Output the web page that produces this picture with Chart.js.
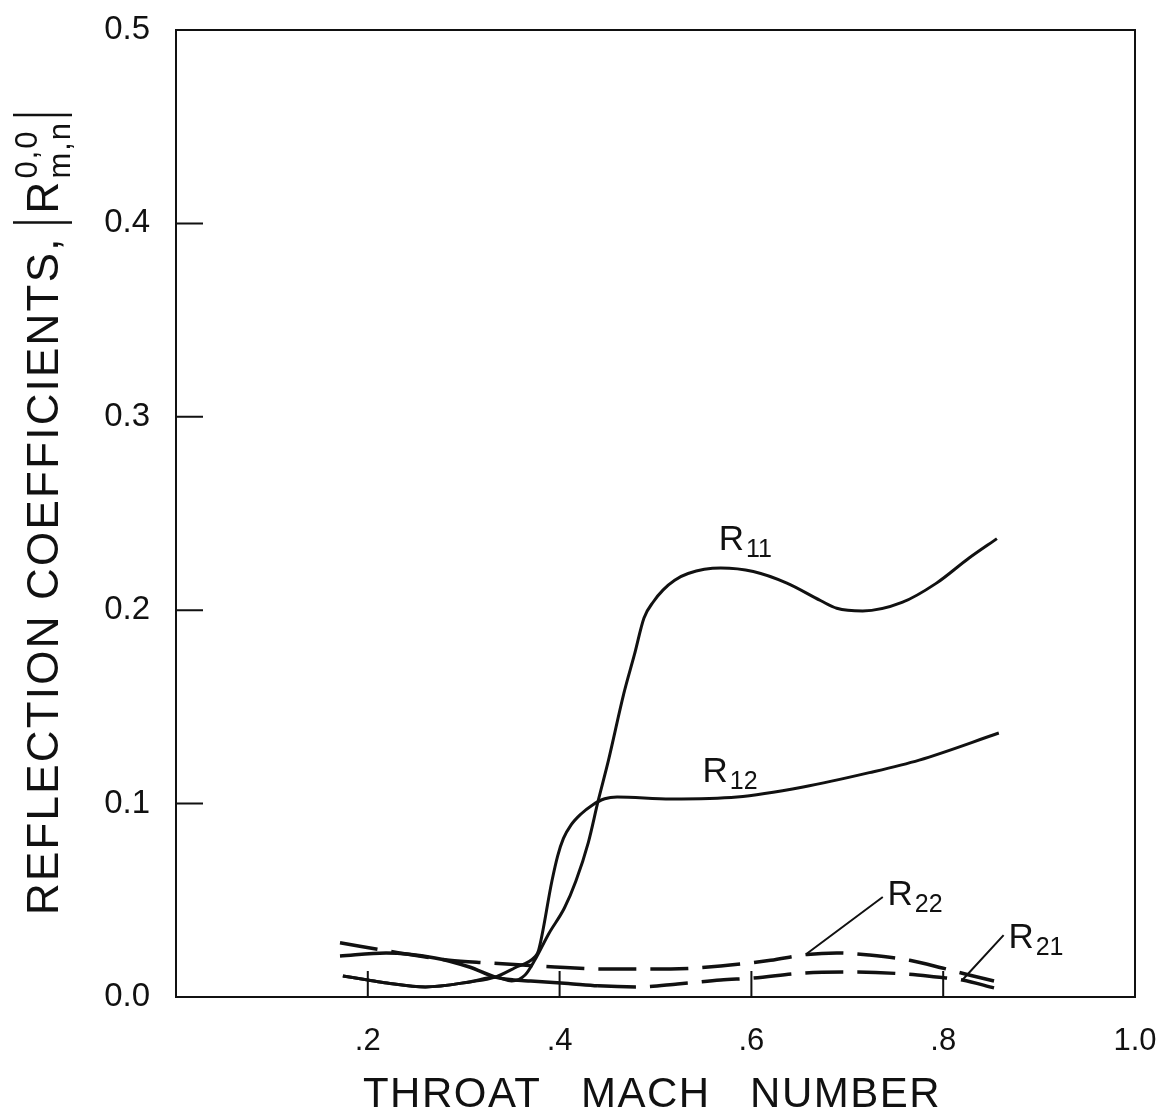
<!DOCTYPE html>
<html>
<head>
<meta charset="utf-8">
<script src="https://cdn.jsdelivr.net/npm/chart.js@4.4.0/dist/chart.umd.min.js"></script>
<style>
  body { margin: 0; background: #fff; }
</style>
</head>
<body>
<canvas id="grafico" width="1164" height="1113"></canvas>
<script>
const xTickLabels = ["", ".2", ".4", ".6", ".8", "1.0"];
const yTickLabels = ["0.0", "0.1", "0.2", "0.3", "0.4", "0.5"];

// R11 (solid)
const machR11 = [0.174, 0.2, 0.22, 0.26, 0.306, 0.333, 0.35, 0.364, 0.374, 0.389, 0.405, 0.417, 0.43, 0.44, 0.451, 0.467, 0.478, 0.488, 0.498, 0.508, 0.52, 0.534, 0.568, 0.602, 0.637, 0.672, 0.689, 0.716, 0.757, 0.793, 0.827, 0.856];
const valR11 = [0.0109, 0.0088, 0.0072, 0.0052, 0.0078, 0.0103, 0.0083, 0.0114, 0.019, 0.033, 0.046, 0.06, 0.08, 0.101, 0.1225, 0.157, 0.177, 0.196, 0.2045, 0.2105, 0.2155, 0.219, 0.2218, 0.22, 0.214, 0.205, 0.201, 0.1996, 0.204, 0.214, 0.227, 0.237];

// R12 (solid)
const machR12 = [0.174, 0.2, 0.22, 0.26, 0.306, 0.333, 0.353, 0.374, 0.378, 0.392, 0.398, 0.404, 0.412, 0.422, 0.434, 0.447, 0.46, 0.516, 0.585, 0.654, 0.723, 0.775, 0.858];
const valR12 = [0.0109, 0.0088, 0.0072, 0.0052, 0.0078, 0.0103, 0.015, 0.0207, 0.024, 0.06, 0.073, 0.082, 0.089, 0.0945, 0.0992, 0.1025, 0.1034, 0.1024, 0.1034, 0.1086, 0.116, 0.1225, 0.1365];

// R22 (dashed)
const machR22 = [0.171, 0.233, 0.285, 0.326, 0.361, 0.395, 0.447, 0.516, 0.568, 0.62, 0.658, 0.689, 0.723, 0.765, 0.799, 0.827, 0.853];
const valR22 = [0.028, 0.0228, 0.019, 0.0176, 0.0165, 0.0155, 0.0145, 0.0145, 0.016, 0.019, 0.022, 0.0228, 0.0217, 0.019, 0.015, 0.0114, 0.0083];

// R21 (dashed on the right part)
const machR21 = [0.171, 0.219, 0.27, 0.306, 0.333, 0.352, 0.37, 0.409, 0.44, 0.482, 0.523, 0.568, 0.602, 0.654, 0.706, 0.757, 0.793, 0.82, 0.853];
const valR21 = [0.0212, 0.0228, 0.0202, 0.0155, 0.0103, 0.0088, 0.0083, 0.007, 0.0058, 0.0052, 0.0067, 0.0088, 0.0098, 0.0124, 0.0129, 0.012, 0.0103, 0.0088, 0.0047];

const pontos = (mx, vs) => mx.map((m, i) => ({ x: m, y: vs[i] }));
const ink = "#111";
const fonte = "Liberation Sans";

const extras = {
  id: "extras",
  afterDatasetsDraw(chart) {
    const { ctx, chartArea: a, scales: { x, y } } = chart;
    ctx.save();
    ctx.strokeStyle = ink;
    ctx.fillStyle = ink;
    ctx.lineWidth = 2;
    ctx.strokeRect(a.left, a.top, a.right - a.left, a.bottom - a.top);

    // inward ticks
    ctx.beginPath();
    y.ticks.slice(1, -1).forEach(t => {
      const py = y.getPixelForValue(t.value);
      ctx.moveTo(a.left, py); ctx.lineTo(a.left + 27, py);
    });
    x.ticks.slice(1, -1).forEach(t => {
      const px = x.getPixelForValue(t.value);
      ctx.moveTo(px, a.bottom); ctx.lineTo(px, a.bottom - 26);
    });
    ctx.stroke();

    // leader lines
    ctx.beginPath();
    ctx.moveTo(x.getPixelForValue(0.658), y.getPixelForValue(0.0225));
    ctx.lineTo(x.getPixelForValue(0.737), y.getPixelForValue(0.0517));
    ctx.moveTo(x.getPixelForValue(0.82), y.getPixelForValue(0.0088));
    ctx.lineTo(x.getPixelForValue(0.863), y.getPixelForValue(0.032));
    ctx.stroke();

    // curve labels
    const rotulo = (sub, m, v) => {
      const px = x.getPixelForValue(m), py = y.getPixelForValue(v);
      ctx.textAlign = "left";
      ctx.textBaseline = "alphabetic";
      ctx.font = "35px " + fonte;
      ctx.fillText("R", px, py);
      const w = ctx.measureText("R").width;
      ctx.font = "25px " + fonte;
      ctx.fillText(sub, px + w + 2, py + 7);
    };
    rotulo("11", 0.566, 0.231);
    rotulo("12", 0.549, 0.111);
    rotulo("22", 0.742, 0.0476);
    rotulo("21", 0.868, 0.0253);

    // x title
    ctx.font = "42px " + fonte;
    ctx.letterSpacing = "1.5px";
    ctx.textAlign = "center";
    ctx.fillText("THROAT   MACH   NUMBER", 652, 1107);

    // y title, rotated
    ctx.save();
    ctx.translate(58, 915);
    ctx.rotate(-Math.PI / 2);
    ctx.textAlign = "left";
    ctx.font = "44px " + fonte;
    ctx.letterSpacing = "2.2px";
    const principal = "REFLECTION COEFFICIENTS,";
    ctx.fillText(principal, 0, 0);
    let u = ctx.measureText(principal).width + 14;
    ctx.lineWidth = 2.5;
    ctx.beginPath();
    ctx.moveTo(u, -45); ctx.lineTo(u, 14);
    ctx.stroke();
    u += 9;
    ctx.letterSpacing = "0px";
    ctx.fillText("R", u, 0);
    u += ctx.measureText("R").width + 3;
    ctx.font = "31px " + fonte;
    ctx.letterSpacing = "2px";
    ctx.fillText("0,0", u, -21);
    ctx.fillText("m,n", u, 12);
    u += Math.max(ctx.measureText("0,0").width, ctx.measureText("m,n").width) + 6;
    ctx.beginPath();
    ctx.moveTo(u, -45); ctx.lineTo(u, 14);
    ctx.stroke();
    ctx.restore();

    ctx.restore();
  }
};

new Chart(document.getElementById("grafico"), {
  type: "line",
  data: {
    datasets: [
      {
        label: "R11",
        data: pontos(machR11, valR11),
        borderColor: ink,
        borderWidth: 3,
        pointRadius: 0,
        cubicInterpolationMode: "monotone",
      },
      {
        label: "R12",
        data: pontos(machR12, valR12),
        borderColor: ink,
        borderWidth: 3,
        pointRadius: 0,
        cubicInterpolationMode: "monotone",
      },
      {
        label: "R22",
        data: pontos(machR22, valR22),
        borderColor: ink,
        borderWidth: 3.5,
        borderDash: [38, 14],
        pointRadius: 0,
        cubicInterpolationMode: "monotone",
      },
      {
        label: "R21",
        data: pontos(machR21, valR21),
        borderColor: ink,
        borderWidth: 3.5,
        pointRadius: 0,
        cubicInterpolationMode: "monotone",
        segment: {
          borderDash: c => (c.p0.parsed.x >= 0.41 ? [38, 14] : undefined),
        },
      },
    ],
  },
  options: {
    responsive: false,
    animation: false,
    layout: { padding: { top: 30, right: 29, left: 0, bottom: 0 } },
    plugins: { legend: { display: false }, tooltip: { enabled: false } },
    scales: {
      x: {
        type: "linear",
        min: 0,
        max: 1,
        afterFit: s => { s.height = 116; s.paddingLeft = 0; s.paddingRight = 0; },
        grid: { display: false, drawTicks: false },
        border: { display: true, color: ink, width: 2 },
        ticks: {
          stepSize: 0.2,
          padding: 26,
          color: ink,
          font: { family: fonte, size: 31 },
          maxRotation: 0,
          callback: (v, i) => xTickLabels[i],
        },
      },
      y: {
        min: 0,
        max: 0.5,
        afterFit: s => { s.width = 176; s.paddingTop = 0; s.paddingBottom = 0; },
        grid: { display: false, drawTicks: false },
        border: { display: true, color: ink, width: 2 },
        ticks: {
          stepSize: 0.1,
          padding: 26,
          color: ink,
          font: { family: fonte, size: 33 },
          callback: (v, i) => yTickLabels[i],
        },
      },
    },
  },
  plugins: [extras],
});
</script>
</body>
</html>
